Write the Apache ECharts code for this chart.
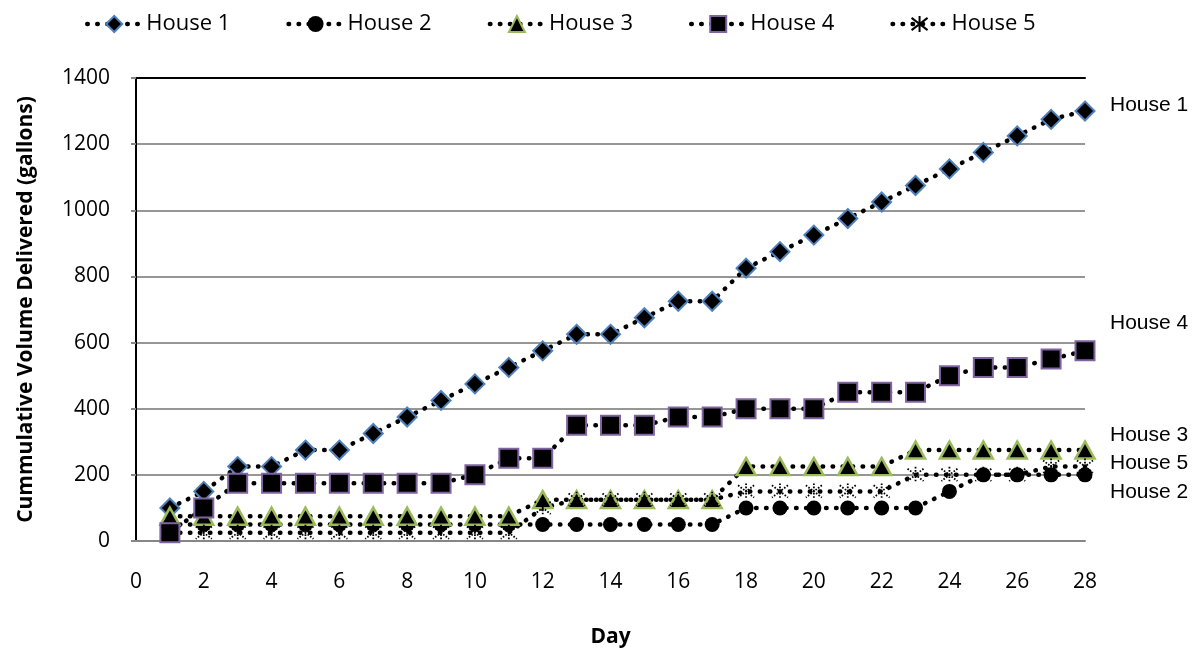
<!DOCTYPE html>
<html><head><meta charset="utf-8">
<script src="https://cdn.jsdelivr.net/npm/echarts@6/dist/echarts.min.js"></script>
<style>html,body{margin:0;padding:0;background:#fff}#c{width:1197px;height:653px}</style>
</head><body><div id="c"></div>
<script>
const days = [1,2,3,4,5,6,7,8,9,10,11,12,13,14,15,16,17,18,19,20,21,22,23,24,25,26,27,28];
const house1 = [100,150,225,225,275,275,325,375,425,475,525,575,625,625,675,725,725,825,875,925,975,1025,1075,1125,1175,1225,1275,1300];
const house2 = [50,50,50,50,50,50,50,50,50,50,50,50,50,50,50,50,50,100,100,100,100,100,100,150,200,200,200,200];
const house3 = [75,75,75,75,75,75,75,75,75,75,75,125,125,125,125,125,125,225,225,225,225,225,275,275,275,275,275,275];
const house4 = [25,100,175,175,175,175,175,175,175,200,250,250,350,350,350,375,375,400,400,400,450,450,450,500,525,525,550,575];
const house5 = [25,25,25,25,25,25,25,25,25,25,25,100,125,125,125,125,125,150,150,150,150,150,200,200,200,200,225,225];
const seriesNames = ['House 1','House 2','House 3','House 4','House 5'];
const yTitle = 'Cummulative Volume Delivered (gallons)';
const xTitle = 'Day';
const endLabels = [['House 1',105],['House 4',323],['House 3',435],['House 5',463],['House 2',492]];

const dotLine = {color: '#000', width: 4.5, type: [0.5, 9.5], cap: 'round'};
function mk(name, vals, symbol, size, fill, border, bw, btype) {
  return {
    name: name, type: 'line', data: days.map((d, i) => [d, vals[i]]),
    symbol: symbol, symbolSize: size, showSymbol: true, showAllSymbol: true,
    lineStyle: dotLine,
    itemStyle: {color: fill, borderColor: border, borderWidth: bw, borderType: btype || 'solid', opacity: 1},
    emphasis: {disabled: true}, animation: false
  };
}
const star = 'path://M0,0L10,10M10,0L0,10M5,-1.5L5,11.5';
const chart = echarts.init(document.getElementById('c'), null, {renderer: 'canvas'});
const baseFont = '"Open Sans", sans-serif';
chart.setOption({
  animation: false,
  backgroundColor: '#fff',
  textStyle: {fontFamily: baseFont},
  legend: {
    left: 80, top: 8, itemWidth: 54, itemHeight: 20, itemGap: 56,
    lineStyle: {color: '#000', width: 4.5, type: [0.5, 9.5], cap: 'round'},
    textStyle: {fontSize: 22, color: '#000', fontFamily: baseFont},
    data: seriesNames
  },
  grid: {left: 136, right: 112, top: 78, bottom: 107, containLabel: false},
  xAxis: [{
    type: 'value', min: 0, max: 28, interval: 2, position: 'bottom', z: 1,
    axisLine: {show: true, onZero: false, lineStyle: {color: '#868686', width: 2}},
    axisTick: {show: false}, splitLine: {show: false},
    axisLabel: {fontSize: 21, color: '#000', margin: 31, fontFamily: baseFont},
    name: xTitle, nameLocation: 'middle', nameGap: 86,
    nameTextStyle: {fontSize: 21, fontWeight: 'bold', color: '#000', fontFamily: baseFont}
  }, {
    type: 'value', min: 0, max: 28, position: 'top', z: 1,
    axisLine: {show: true, onZero: false, lineStyle: {color: '#000', width: 2}},
    axisTick: {show: false}, axisLabel: {show: false}, splitLine: {show: false}
  }],
  yAxis: [{
    type: 'value', min: 0, max: 1400, interval: 200, position: 'left', z: 1,
    axisLine: {show: true, lineStyle: {color: '#868686', width: 2}},
    axisTick: {show: true, length: 5, lineStyle: {color: '#868686', width: 2}},
    splitLine: {show: true, lineStyle: {color: '#969696', width: 2}},
    axisLabel: {fontSize: 21, color: '#000', margin: 26, fontFamily: baseFont, formatter: v => String(v)},
    name: yTitle, nameLocation: 'middle', nameGap: 99, nameRotate: 90,
    nameTextStyle: {fontSize: 21, fontWeight: 'bold', color: '#000', fontFamily: baseFont}
  }, {
    type: 'value', min: 0, max: 1400, position: 'right', z: 1,
    axisLine: {show: true, lineStyle: {color: '#000', width: 2}},
    axisTick: {show: false}, axisLabel: {show: false}, splitLine: {show: false}
  }],
  series: [
    mk(seriesNames[0], house1, 'diamond', 19, '#000', '#4F81BD', 2),
    mk(seriesNames[1], house2, 'circle', 15, '#000', '#000', 0),
    mk(seriesNames[2], house3, 'triangle', [19, 17], '#000', '#9BBB59', 2.5),
    mk(seriesNames[3], house4, 'rect', 19, '#000', '#8064A2', 2),
    mk(seriesNames[4], house5, star, 16, '#000', '#000', 1.8, [1.6, 1.6])
  ],
  graphic: endLabels.map(l => ({
    type: 'text', x: 1110, y: l[1], z: 10,
    style: {text: l[0], font: '21px "Liberation Sans", Arial, sans-serif', fill: '#000', verticalAlign: 'middle', align: 'left'}
  }))
});
</script></body></html>
